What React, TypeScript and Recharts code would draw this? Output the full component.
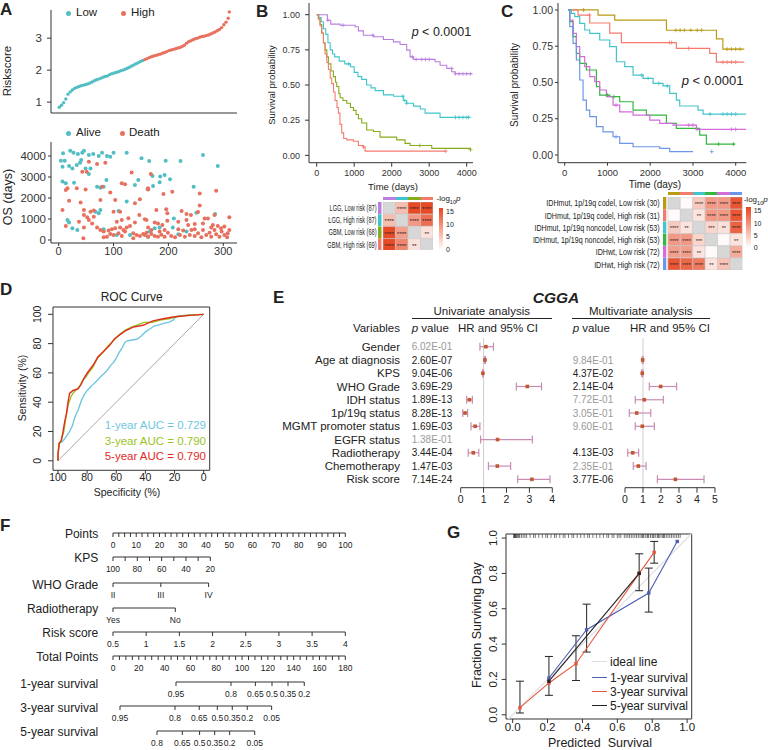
import React from "react";
import {
  ComposedChart,
  BarChart,
  Line,
  Scatter,
  Bar,
  Cell,
  LabelList,
  XAxis,
  YAxis,
  ErrorBar,
  ReferenceLine,
  ReferenceArea,
} from "recharts";

const FONT = "'Liberation Sans', Arial, Helvetica, sans-serif";
const INK = "#222";
const AXIS = "#333";

// ---------- A: risk score ranking + survival status ----------
const RISK_STEP = 4; // every 4th ranked patient
const RISK_SCORES = [
  0.84, 0.9, 0.98, 1.1, 1.25, 1.32, 1.38, 1.43, 1.46, 1.49, 1.51, 1.53, 1.55, 1.57, 1.6, 1.63,
  1.67, 1.7, 1.72, 1.75, 1.78, 1.8, 1.82, 1.86, 1.89, 1.91, 1.93, 1.95, 1.98, 2.0, 2.03, 2.06,
  2.09, 2.13, 2.16, 2.2, 2.23, 2.27, 2.3, 2.33, 2.36, 2.39, 2.42, 2.44, 2.46, 2.48, 2.5, 2.53,
  2.55, 2.58, 2.61, 2.63, 2.65, 2.67, 2.69, 2.71, 2.74, 2.78, 2.84, 2.89, 2.92, 2.95, 2.98, 3.0,
  3.03, 3.05, 3.06, 3.08, 3.1, 3.13, 3.16, 3.19, 3.23, 3.27, 3.33, 3.42, 3.5, 3.62,
];
const RISK_TOP = { rank: 311, score: 3.82 };
const RISK_CUT_RANK = 155;

const OS_ALIVE: [number, number][] = [
  [8, 4130], [21, 4250], [27, 4160], [35, 4100], [43, 4160], [46, 4250], [55, 4050], [63, 4100],
  [73, 4000], [79, 4160], [88, 4000], [94, 3970], [100, 4160], [124, 4160], [151, 3890], [4, 3780],
  [11, 3780], [7, 3490], [19, 3520], [25, 3410], [33, 3570], [41, 3810], [39, 3680], [49, 3410],
  [58, 3410], [55, 3140], [7, 2780], [13, 2700], [28, 2730], [70, 2540], [76, 2490], [87, 2860],
  [82, 2540], [145, 2860], [139, 2620], [124, 1830], [109, 1380], [76, 1430], [67, 1350], [73, 1270],
  [16, 950], [19, 830], [25, 560], [34, 480], [106, 240], [130, 240], [163, 160], [82, 510],
  [165, 3760], [195, 3780], [222, 3760], [263, 4050], [290, 3520], [171, 3050], [185, 3020],
  [193, 3100], [184, 2750], [203, 2890], [172, 2570], [162, 2430], [246, 2540], [251, 1300],
  [285, 1240], [210, 1020], [175, 560], [184, 600], [208, 600], [218, 270], [166, 400], [233, 400],
];
const OS_DEATH: [number, number][] = [
  [55, 3730], [70, 3620], [85, 3680], [43, 3250], [51, 3250], [133, 3210], [16, 2460], [13, 2380],
  [33, 2460], [49, 2410], [79, 2540], [115, 2700], [121, 2650], [163, 2410], [94, 2260], [19, 1870],
  [40, 1780], [76, 1900], [103, 1900], [148, 1940], [139, 1750], [7, 1430], [46, 1430], [58, 1350],
  [64, 1400], [100, 1350], [112, 1350], [147, 1190], [46, 1190], [52, 1080], [64, 1110], [37, 870],
  [55, 950], [61, 790], [106, 870], [115, 950], [127, 1030], [139, 830], [157, 990], [13, 670],
  [46, 600], [70, 600], [76, 480], [82, 400], [91, 450], [97, 510], [103, 560], [112, 600],
  [118, 480], [124, 600], [130, 670], [94, 290], [88, 160], [100, 240], [109, 320], [115, 190],
  [121, 400], [136, 320], [142, 240], [148, 190], [154, 290], [160, 350], [136, 80], [45, 80],
  [82, 130], [168, 3140], [163, 2460], [191, 2190], [207, 2300], [257, 2220], [287, 2350],
  [257, 1640], [178, 1430], [196, 1460], [198, 1270], [224, 1380], [233, 1240], [241, 1190],
  [254, 1330], [266, 1020], [272, 1020], [284, 1190], [311, 1080], [160, 950], [163, 600],
  [175, 830], [181, 790], [189, 720], [198, 920], [218, 870], [233, 950], [236, 720], [248, 760],
  [263, 790], [281, 720], [290, 670], [302, 640], [157, 240], [163, 160], [169, 290], [175, 190],
  [181, 160], [187, 250], [193, 160], [199, 350], [205, 190], [212, 130], [221, 240], [227, 450],
  [230, 160], [239, 240], [242, 480], [248, 190], [254, 320], [260, 130], [263, 480], [269, 240],
  [275, 350], [278, 160], [284, 480], [287, 270], [293, 160], [297, 400], [302, 240], [307, 130],
  [311, 480], [308, 320], [193, 480], [218, 510], [248, 510], [278, 600], [296, 560], [184, 400],
  [169, 480],
];

// ---------- B: KM by grade x risk ----------
const B_ROWS = ["LGG, Low risk (87)", "LGG, High risk (87)", "GBM, Low risk (68)", "GBM, High risk (69)"];
const B_COLORS = ["#B87FE0", "#3EC5CB", "#86AC1A", "#F57A6E"];
const KM_LGG_LOW: [number, number][] = [
  [0, 1], [285, 0.96], [374, 0.933], [623, 0.925], [1023, 0.914], [1112, 0.885], [1245, 0.854],
  [1512, 0.843], [1779, 0.824], [2045, 0.807], [2223, 0.788], [2401, 0.748], [2490, 0.7],
  [2579, 0.682], [3157, 0.665], [3290, 0.641], [3468, 0.618], [3601, 0.594], [3690, 0.58], [4150, 0.58],
];
const KM_LGG_HIGH: [number, number][] = [
  [0, 1], [60, 0.98], [120, 0.95], [180, 0.9], [240, 0.86], [300, 0.8], [360, 0.75], [420, 0.72],
  [480, 0.7], [600, 0.67], [750, 0.65], [900, 0.63], [1000, 0.59], [1100, 0.56], [1200, 0.54],
  [1330, 0.5], [1450, 0.48], [1560, 0.46], [1780, 0.43], [2050, 0.42], [2310, 0.39], [2400, 0.37],
  [2580, 0.35], [2760, 0.33], [2890, 0.3], [3290, 0.27], [4100, 0.27],
];
const KM_GBM_LOW: [number, number][] = [
  [0, 1], [45, 0.97], [90, 0.93], [134, 0.87], [180, 0.8], [223, 0.75], [270, 0.7], [312, 0.65],
  [380, 0.6], [445, 0.56], [500, 0.52], [534, 0.49], [590, 0.44], [623, 0.41], [700, 0.39],
  [801, 0.37], [900, 0.34], [979, 0.32], [1050, 0.29], [1112, 0.26], [1200, 0.23], [1334, 0.18],
  [1512, 0.17], [1690, 0.13], [2134, 0.11], [2357, 0.085], [2490, 0.07], [3068, 0.05], [4100, 0.04],
];
const KM_GBM_HIGH: [number, number][] = [
  [0, 1], [45, 0.97], [90, 0.92], [134, 0.87], [180, 0.8], [223, 0.72], [270, 0.66], [312, 0.61],
  [360, 0.55], [401, 0.51], [450, 0.45], [490, 0.39], [540, 0.34], [578, 0.3], [620, 0.22],
  [667, 0.16], [720, 0.12], [801, 0.11], [979, 0.1], [1112, 0.07], [1245, 0.06], [1290, 0.03], [3440, 0.03],
];
const CENS_B = [
  [300, 700, 1500, 2550, 2650, 2800, 2900, 3000, 3600, 3700, 3800, 3900, 4000, 4100],
  [850, 2300, 2350, 2400, 3700, 3800, 3900, 4000, 4050],
  [2750, 4100],
  [1250, 3440],
];
const HEAT_B: (number | null)[][] = [
  [null, 5.5, 15, 15],
  [5.5, null, 8.5, 12],
  [15, 8, null, 2.5],
  [15, 10, 2.5, null],
];

// ---------- C: KM by molecular subtype x risk ----------
const C_ROWS = [
  "IDHmut, 1p/19q codel, Low risk (30)",
  "IDHmut, 1p/19q codel, High risk (31)",
  "IDHmut, 1p/19q noncodel, Low risk (53)",
  "IDHmut, 1p/19q noncodel, High risk (53)",
  "IDHwt, Low risk (72)",
  "IDHwt, High risk (72)",
];
const C_COLORS = ["#B89C17", "#F57A6E", "#46C4CC", "#36B740", "#D46CDA", "#6C97E6"];
const KM_CODEL_LOW: [number, number][] = [
  [78, 1], [780, 0.965], [1170, 0.93], [2380, 0.86], [3550, 0.8], [3700, 0.73], [4200, 0.73],
];
const KM_CODEL_HIGH: [number, number][] = [
  [78, 1], [312, 0.965], [585, 0.91], [1053, 0.84], [1326, 0.775], [2612, 0.735], [3392, 0.7],
  [3548, 0.64], [4200, 0.64],
];
const KM_NONCODEL_LOW: [number, number][] = [
  [78, 1], [156, 0.977], [234, 0.954], [351, 0.908], [468, 0.862], [585, 0.839], [819, 0.793],
  [1053, 0.747], [1209, 0.643], [1404, 0.609], [1599, 0.551], [1833, 0.528], [2067, 0.494],
  [2301, 0.476], [2456, 0.425], [2612, 0.379], [2690, 0.338], [3119, 0.31], [3236, 0.282], [4250, 0.282],
];
const KM_NONCODEL_HIGH: [number, number][] = [
  [78, 1], [117, 0.92], [195, 0.816], [273, 0.7], [351, 0.632], [507, 0.586], [741, 0.471],
  [819, 0.413], [1053, 0.402], [1287, 0.367], [1599, 0.31], [1911, 0.275], [2379, 0.218],
  [2612, 0.183], [3158, 0.137], [3314, 0.075], [3977, 0.075],
];
const KM_WT_LOW: [number, number][] = [
  [78, 1], [117, 0.93], [195, 0.839], [273, 0.747], [351, 0.678], [468, 0.609], [585, 0.54],
  [702, 0.506], [819, 0.448], [975, 0.402], [1131, 0.344], [1287, 0.298], [1599, 0.275],
  [1989, 0.241], [2223, 0.218], [2534, 0.206], [3080, 0.177], [4250, 0.177],
];
const KM_WT_HIGH: [number, number][] = [
  [78, 1], [117, 0.885], [195, 0.77], [273, 0.655], [351, 0.517], [429, 0.379], [507, 0.31],
  [585, 0.264], [741, 0.195], [897, 0.16], [1131, 0.126], [1287, 0.08], [1599, 0.057],
  [2223, 0.046], [2456, 0.023], [3002, 0.023],
];
const CENS_C = [
  [440, 2600, 2700, 2800, 2950, 3100, 3200, 3800, 3900, 4000, 4100],
  [580, 2450, 2500, 2900, 3700, 3800, 3900, 4000],
  [1800, 1950, 2200, 2400, 3400, 3700, 3800, 3900, 4000],
  [1000, 1150, 3600, 3950],
  [1200, 2900, 3000, 3100, 3900, 4000],
  [1200, 3440],
];
const HEAT_C: (number | null)[][] = [
  [null, 0.3, 4.5, 8.5, 8.5, 14],
  [0.3, null, 2.3, 8.5, 8.5, 14],
  [4.5, 2.3, null, 3.5, 2.5, 13],
  [8.5, 8.5, 3.5, null, 0.4, 2.3],
  [8, 8, 2.3, 0.4, null, 7],
  [14, 12.5, 11, 2.3, 5, null],
];

// ---------- D: time-dependent ROC (specificity, sensitivity) ----------
const ROC_1Y: [number, number][] = [
  [100, 0], [99.6, 8], [99, 12], [97, 13], [95.5, 15], [94, 17], [92, 20], [90, 24], [89, 28],
  [87.5, 32], [86, 35], [84, 41], [82, 45], [80, 48], [78, 50], [76, 52], [74, 54], [72, 56],
  [70, 58], [68, 60], [66, 62], [64, 65], [62, 67], [60, 70], [58, 74], [56, 77], [54, 81], [52, 82],
  [49, 82.5], [46, 83], [43, 85], [40, 88], [37, 90], [34, 92], [30, 93], [27, 94], [24, 94.5],
  [21, 96], [19, 98.5], [15, 99], [8, 99.5], [0, 100],
];
const ROC_3Y: [number, number][] = [
  [100, 0], [99.5, 12], [98, 13], [96, 20], [94.5, 30], [93, 38], [91, 44], [89, 47], [87, 49],
  [85, 51], [83, 55], [81, 57], [79, 60], [76, 64], [73, 70], [70, 73], [66, 78], [62, 82], [58, 86],
  [54, 89], [50, 91], [45, 93], [41, 94.5], [35, 94.5], [30, 96], [24, 97], [18, 98.5], [10, 99.5], [0, 100],
];
const ROC_5Y: [number, number][] = [
  [100, 0], [100, 5], [99, 12], [97.7, 14], [96.5, 20], [95.4, 26.5], [94.2, 32], [93.1, 40], [92, 46],
  [89.7, 48], [86.2, 49], [83.9, 52.6], [81.7, 57.2], [79.4, 60.6], [75.9, 65.2], [72.5, 71],
  [69.1, 74.3], [64.5, 78.8], [61.1, 83.4], [56.5, 86.8], [53.1, 89.1], [48.5, 91.3], [41.6, 92.5],
  [34.8, 95.5], [27.9, 97], [21, 98.2], [9.6, 99.3], [0, 100],
];
const AUC_LABELS = ["1-year AUC = 0.729", "3-year AUC = 0.790", "5-year AUC = 0.790"];
const ROC_COLORS = ["#6FC7DE", "#9AC41F", "#E32A1F"];

// ---------- E: Cox regression ----------
const E_VARS = [
  "Gender", "Age at diagnosis", "KPS", "WHO Grade", "IDH status", "1p/19q status",
  "MGMT promoter status", "EGFR status", "Radiotherapy", "Chemotherapy", "Risk score",
];
const UNI_P = [
  "6.02E-01", "2.60E-07", "9.04E-06", "3.69E-29", "1.89E-13", "8.28E-13",
  "1.69E-03", "1.38E-01", "3.44E-04", "1.47E-03", "7.14E-24",
];
const UNI_HR = [1.1, 1.06, 0.97, 2.91, 0.38, 0.19, 0.63, 1.61, 0.55, 1.6, 3.11];
const UNI_LO = [0.84, 1.03, 0.96, 2.43, 0.26, 0.09, 0.45, 0.87, 0.33, 1.21, 2.49];
const UNI_HI = [1.43, 1.08, 0.99, 3.53, 0.51, 0.3, 0.84, 3.13, 0.79, 2.18, 3.9];
const MULTI_P = [
  null, "9.84E-01", "4.37E-02", "2.14E-04", "7.72E-01", "3.05E-01",
  "9.60E-01", null, "4.13E-03", "2.35E-01", "3.77E-06",
];
const MULTI_HR = [null, 0.98, 0.96, 1.98, 1.07, 0.65, 0.96, null, 0.43, 0.74, 2.8];
const MULTI_LO = [null, 0.96, 0.93, 1.35, 0.57, 0.24, 0.57, null, 0.15, 0.46, 1.8];
const MULTI_HI = [null, 1.01, 0.99, 2.87, 2.13, 1.43, 1.63, null, 0.76, 1.17, 4.39];

// ---------- F: nomogram ----------
const WHO_LABELS = ["II", "III", "IV"];
const RADIO_LABELS = ["Yes", "No"];
const SURV1_TP = [48.8, 91.4, 110.3, 123.2, 135.6, 148.2];
const SURV1_LABELS = ["0.95", "0.8", "0.65", "0.5", "0.35", "0.2"];
const SURV3_TP = [5.7, 48.3, 67.1, 81.1, 92.7, 104.3, 123.2];
const SURV3_LABELS = ["0.95", "0.8", "0.65", "0.5", "0.35", "0.2", "0.05"];
const SURV5_TP = [34.6, 54.2, 67.6, 79.3, 90.9, 110.3];
const SURV5_LABELS = ["0.8", "0.65", "0.5", "0.35", "0.2", "0.05"];

// ---------- G: calibration ----------
const CAL_1Y: [number, number][] = [[0.208, 0.208], [0.424, 0.481], [0.78, 0.689], [0.943, 0.981]];
const CAL_3Y: [number, number][] = [[0.042, 0.04], [0.208, 0.18], [0.363, 0.289], [0.725, 0.8], [0.811, 0.919]];
const CAL_5Y: [number, number][] = [[0.208, 0.19], [0.725, 0.8]];
const CAL_CI: [number, number, number][] = [
  [0.042, 0.01, 0.19], [0.208, 0.11, 0.33], [0.363, 0.194, 0.447], [0.424, 0.355, 0.626],
  [0.725, 0.702, 0.911], [0.78, 0.581, 0.83], [0.811, 0.858, 0.981],
];
const RUG = [
  0.005, 0.01, 0.012, 0.015, 0.018, 0.02, 0.025, 0.03, 0.035, 0.04, 0.05, 0.06, 0.07, 0.08, 0.1,
  0.12, 0.13, 0.15, 0.17, 0.19, 0.2, 0.22, 0.24, 0.25, 0.27, 0.29, 0.3, 0.32, 0.34, 0.35, 0.37,
  0.39, 0.41, 0.43, 0.44, 0.46, 0.48, 0.5, 0.52, 0.54, 0.55, 0.57, 0.58, 0.6, 0.61, 0.62, 0.64,
  0.65, 0.66, 0.67, 0.68, 0.69, 0.7, 0.71, 0.72, 0.73, 0.74, 0.745, 0.75, 0.76, 0.77, 0.775, 0.78,
  0.79, 0.8, 0.805, 0.81, 0.82, 0.83, 0.835, 0.84, 0.85, 0.86, 0.865, 0.87, 0.88, 0.89, 0.9, 0.91,
  0.92, 0.93, 0.94, 0.95, 0.96,
];

// ---------- helpers ----------
function T({ x, y, size = 11, anchor = "start", rotate, color = INK, bold, italic, children }: any) {
  const tx = anchor === "start" ? "0" : anchor === "middle" ? "-50%" : "-100%";
  return (
    <div
      style={{
        position: "absolute", left: x, top: y, fontSize: size, lineHeight: 1, whiteSpace: "pre", color,
        fontWeight: bold ? 700 : 400, fontStyle: italic ? "italic" : "normal",
        transform: rotate ? "translate(-50%,-50%) rotate(-90deg)" : `translate(${tx},-50%)`,
      }}
    >
      {children}
    </div>
  );
}

// chart box: plot rectangle in page px -> wrapper position + chart size
function box(pl: number, pt: number, pr: number, pb: number, yw: number, xh: number, mt = 4, mr = 6) {
  const left = pl - yw;
  const top = pt - mt;
  return {
    pos: { position: "absolute" as const, left, top },
    width: pr + mr - left,
    height: pb + xh - top,
    margin: { top: mt, right: mr, bottom: 0, left: 0 },
  };
}

const dot = (color: string, r: number) => (p: any) => <circle cx={p.cx} cy={p.cy} r={r} fill={color} />;
const plus = (color: string) => (p: any) => (
  <path d={`M${p.cx - 2},${p.cy}h4M${p.cx},${p.cy - 2}v4`} stroke={color} strokeWidth={0.8} />
);
const square = (color: string, s: number) => (p: any) => (
  <rect x={p.cx - s / 2} y={p.cy - s / 2} width={s} height={s} fill={color} />
);
const rotTick = (size: number, fmt: (v: number) => string) => (p: any) => (
  <text transform={`translate(${p.x},${p.y}) rotate(-90)`} textAnchor="middle" fontSize={size} fill={INK}>
    {fmt(p.payload.value)}
  </text>
);

function survAt(steps: [number, number][], t: number) {
  let s = steps[0][1];
  for (const [tt, ss] of steps) if (tt <= t) s = ss;
  return s;
}
function heat(v: number | null) {
  if (v === null) return "#D7D7D7";
  const t = Math.min(v, 15) / 15;
  const mix = (a: number, b: number) => Math.round(a + (b - a) * t);
  return `rgb(${mix(255, 233)},${mix(255, 74)},${mix(255, 38)})`;
}
function stars(v: number | null) {
  if (v === null) return "";
  return v > 4 ? "****" : v > 3 ? "***" : v > 2 ? "**" : v > 1.3 ? "*" : "";
}

// ---------- panels ----------
function PanelA() {
  const pts = RISK_SCORES.map((score, i) => ({ rank: 1 + i * RISK_STEP, score })).concat([RISK_TOP]);
  const low = pts.filter((p) => p.rank <= RISK_CUT_RANK);
  const high = pts.filter((p) => p.rank > RISK_CUT_RANK);
  const alive = OS_ALIVE.map(([rank, os]) => ({ rank, os }));
  const death = OS_DEATH.map(([rank, os]) => ({ rank, os }));
  const teal = "#52BDC2";
  const red = "#E8705E";
  const b1 = box(51, 10, 237, 113, 44, 2);
  const b2 = box(51, 142, 237, 243, 44, 18);
  return (
    <>
      <div style={b1.pos}>
        <ComposedChart width={b1.width} height={b1.height} margin={b1.margin}>
          <XAxis type="number" dataKey="rank" domain={[-14, 325]} allowDataOverflow tick={false} tickLine={false} height={2} stroke={AXIS} />
          <YAxis type="number" dataKey="score" domain={[0.66, 3.88]} allowDataOverflow ticks={[1, 2, 3]} width={44} tickSize={4} tickMargin={5} tick={{ fontSize: 11.5, fill: AXIS }} stroke={AXIS} />
          <Scatter data={low} shape={dot(teal, 1.7)} isAnimationActive={false} />
          <Scatter data={high} shape={dot(red, 1.7)} isAnimationActive={false} />
        </ComposedChart>
      </div>
      <div style={b2.pos}>
        <ComposedChart width={b2.width} height={b2.height} margin={b2.margin}>
          <XAxis type="number" dataKey="rank" domain={[-14, 325]} allowDataOverflow ticks={[0, 100, 200, 300]} tickSize={3} tickMargin={1} height={18} tick={{ fontSize: 11, fill: AXIS }} stroke={AXIS} />
          <YAxis type="number" dataKey="os" domain={[-143, 4667]} allowDataOverflow ticks={[0, 1000, 2000, 3000, 4000]} width={44} tickSize={3} tickMargin={2} tick={{ fontSize: 11.5, fill: AXIS }} stroke={AXIS} />
          <Scatter data={alive} shape={dot(teal, 2)} isAnimationActive={false} />
          <Scatter data={death} shape={dot(red, 2)} isAnimationActive={false} />
        </ComposedChart>
      </div>
      <T x={8} y={71} size={11.5} rotate>Riskscore</T>
      <T x={8} y={197} size={12.5} rotate>OS (days)</T>
      <div style={{ position: "absolute", left: 66, top: 11, width: 4.5, height: 4.5, borderRadius: 3, background: teal }} />
      <T x={76} y={13} size={11.5}>Low</T>
      <div style={{ position: "absolute", left: 121, top: 11, width: 4.5, height: 4.5, borderRadius: 3, background: red }} />
      <T x={131} y={13} size={11.5}>High</T>
      <div style={{ position: "absolute", left: 66, top: 131, width: 4.5, height: 4.5, borderRadius: 3, background: teal }} />
      <T x={76} y={133} size={11.5}>Alive</T>
      <div style={{ position: "absolute", left: 120, top: 131, width: 4.5, height: 4.5, borderRadius: 3, background: red }} />
      <T x={129} y={133} size={11.5}>Death</T>
    </>
  );
}

function KM({ curves, colors, censors, b, xDomain, yDomain, yTick, xTick, lw, xh }: any) {
  return (
    <div style={b.pos}>
      <ComposedChart width={b.width} height={b.height} margin={b.margin}>
        <XAxis type="number" dataKey="t" domain={xDomain} allowDataOverflow ticks={[0, 1000, 2000, 3000, 4000]} interval={0} height={xh} stroke={AXIS} {...xTick} />
        <YAxis type="number" dataKey="s" domain={yDomain} allowDataOverflow ticks={[0, 0.25, 0.5, 0.75, 1]} interval={0} tickFormatter={(v: number) => v.toFixed(2)} stroke={AXIS} {...yTick} />
        {curves.map((c: [number, number][], i: number) => (
          <Line key={i} data={c.map(([t, s]) => ({ t, s }))} dataKey="s" type="stepAfter" stroke={colors[i]} strokeWidth={lw} dot={false} isAnimationActive={false} />
        ))}
        {censors.map((ts: number[], i: number) => (
          <Scatter key={`c${i}`} data={ts.map((t) => ({ t, s: survAt(curves[i], t) }))} shape={plus(colors[i])} isAnimationActive={false} />
        ))}
      </ComposedChart>
    </div>
  );
}

const starLabel = (size: number) => (p: any) =>
  p.value ? (
    <text x={p.x + p.width / 2} y={p.y + p.height / 2 + size * 0.55} textAnchor="middle" fontSize={size} fill="#222">
      {p.value}
    </text>
  ) : null;

function Heatmap(props: any) {
  const { rows, colors, values, gridLeft, gridTop, cellW, rowH, stripW, gapW, labelW, labelSize, labelScale, labelGap, starSize } = props;
  const n = rows.length;
  const plotLeft = gridLeft - stripW - gapW;
  const data = rows.map((name: string, i: number) => {
    const d: Record<string, any> = { name, strip: stripW / cellW, gap: gapW / cellW };
    values[i].forEach((v: number | null, j: number) => {
      d[`c${j}`] = 1;
      d[`s${j}`] = stars(v);
    });
    return d;
  });
  const width = labelW + (gridLeft + n * cellW - plotLeft) + 1;
  return (
    <div style={{ position: "absolute", left: plotLeft - labelW, top: gridTop }}>
      <BarChart layout="vertical" width={width} height={n * rowH} data={data} margin={{ top: 0, right: 1, bottom: 0, left: 0 }} barCategoryGap={0} barGap={0}>
        <XAxis type="number" hide domain={[0, n + (stripW + gapW) / cellW]} allowDataOverflow />
        <YAxis
          type="category" dataKey="name" width={labelW} axisLine={false} tickLine={false} tickSize={0} tickMargin={labelGap} interval={0}
          tick={(p: any) => (
            <text transform={`translate(${p.x},${p.y}) scale(${labelScale},1)`} textAnchor="end" dy="0.35em" fontSize={labelSize} fill={INK}>
              {p.payload.value}
            </text>
          )}
        />
        <Bar dataKey="strip" stackId="h" isAnimationActive={false}>
          {rows.map((_: string, i: number) => <Cell key={i} fill={colors[i]} />)}
        </Bar>
        <Bar dataKey="gap" stackId="h" fill="transparent" isAnimationActive={false} />
        {rows.map((_: string, j: number) => (
          <Bar key={j} dataKey={`c${j}`} stackId="h" stroke="#c4c4c4" strokeWidth={0.5} isAnimationActive={false}>
            {values.map((r: (number | null)[], i: number) => <Cell key={i} fill={heat(r[j])} />)}
            <LabelList dataKey={`s${j}`} content={starLabel(starSize)} />
          </Bar>
        ))}
      </BarChart>
    </div>
  );
}

function HeatDecor({ colors, gridLeft, cellW, stripTop, legX, legTop, legW, legH, titleY, fs }: any) {
  const labelsY = [0, 1, 2, 3].map((k) => legTop + 3 + (k * (legH - 4)) / 3);
  return (
    <>
      {colors.map((c: string, j: number) => (
        <div key={j} style={{ position: "absolute", left: gridLeft + j * cellW, top: stripTop, width: cellW, height: 3, background: c }} />
      ))}
      <T x={legX - 2} y={titleY} size={fs}>
        -log<sub style={{ fontSize: fs * 0.7 }}>10</sub><i>p</i>
      </T>
      <div style={{ position: "absolute", left: legX, top: legTop, width: legW, height: legH, background: "linear-gradient(to bottom, #E9431F, #F6A58F 50%, #FFFFFF)" }} />
      {["15", "10", "5", "0"].map((s, k) => (
        <T key={s} x={legX + legW + 3} y={labelsY[k]} size={fs - 1}>{s}</T>
      ))}
    </>
  );
}

function PanelB() {
  const b = box(309, 3, 473, 162.7, 40, 18);
  return (
    <>
      <KM
        curves={[KM_LGG_LOW, KM_LGG_HIGH, KM_GBM_LOW, KM_GBM_HIGH]} colors={B_COLORS} censors={CENS_B} b={b}
        xDomain={[-205, 4168]} yDomain={[-0.052, 1.083]} lw={1.1} xh={18}
        xTick={{ tickSize: 4, tickMargin: 3, tick: { fontSize: 9, fill: AXIS } }}
        yTick={{ width: 40, tickSize: 4, tickMargin: 5, tick: { fontSize: 9, fill: AXIS } }}
      />
      <T x={272} y={85} size={9.5} rotate>Survival probability</T>
      <T x={393} y={187} size={9.5} anchor="middle">Time (days)</T>
      <T x={411.7} y={32} size={12.5}><i>p</i> &lt; 0.0001</T>
      <Heatmap rows={B_ROWS} colors={B_COLORS} values={HEAT_B} gridLeft={383} gridTop={201.7} cellW={12.5} rowH={12.2} stripW={3.5} gapW={1.5} labelW={60} labelSize={8.5} labelScale={0.66} labelGap={1.5} starSize={6} />
      <HeatDecor colors={B_COLORS} gridLeft={383} cellW={12.5} stripTop={196.5} legX={438.5} legTop={208} legW={4.5} legH={42} titleY={200} fs={8} />
    </>
  );
}

function PanelC() {
  const b = box(558.3, 3, 746.7, 162.7, 45, 22);
  return (
    <>
      <KM
        curves={[KM_CODEL_LOW, KM_CODEL_HIGH, KM_NONCODEL_LOW, KM_NONCODEL_HIGH, KM_WT_LOW, KM_WT_HIGH]} colors={C_COLORS} censors={CENS_C} b={b}
        xDomain={[-157, 4250]} yDomain={[-0.053, 1.048]} lw={1.2} xh={22}
        xTick={{ tickSize: 3, tickMargin: 4, tick: { fontSize: 9.5, fill: AXIS } }}
        yTick={{ width: 45, tickSize: 3, tickMargin: 2, tick: { fontSize: 10.5, fill: AXIS } }}
      />
      <T x={515} y={85} size={10} rotate>Survival probability</T>
      <T x={655} y={184.5} size={10} anchor="middle">Time (days)</T>
      <T x={681.7} y={80} size={13}><i>p</i> &lt; 0.0001</T>
      <Heatmap rows={C_ROWS} colors={C_COLORS} values={HEAT_C} gridLeft={667.7} gridTop={197} cellW={12.43} rowH={12.22} stripW={3.3} gapW={1.6} labelW={160} labelSize={9.5} labelScale={0.75} labelGap={3.3} starSize={5.5} />
      <HeatDecor colors={C_COLORS} gridLeft={667.7} cellW={12.43} stripTop={192} legX={745.7} legTop={207.3} legW={5} legH={41} titleY={200.5} fs={8} />
    </>
  );
}

function PanelD() {
  const b = box(53.3, 306.7, 210, 470, 25, 14, 4, 4);
  const curves = [ROC_1Y, ROC_3Y, ROC_5Y];
  return (
    <>
      <div style={b.pos}>
        <ComposedChart width={b.width} height={b.height} margin={b.margin}>
          <XAxis type="number" dataKey="spec" reversed domain={[-4.1, 103.4]} allowDataOverflow ticks={[0, 20, 40, 60, 80, 100]} interval={0} axisLine={false} tickSize={3.5} tickMargin={0} height={14} stroke={AXIS} tick={{ fontSize: 10.5, fill: INK }} />
          <YAxis type="number" dataKey="sens" domain={[-6.5, 105]} allowDataOverflow ticks={[0, 20, 40, 60, 80, 100]} interval={0} axisLine={false} tickSize={5} tickMargin={6.5} width={25} stroke={AXIS} tick={rotTick(10.5, (v) => String(v))} />
          <ReferenceArea x1={-4.1} x2={103.4} y1={-6.5} y2={105} fill="none" stroke={AXIS} strokeWidth={1} ifOverflow="visible" />
          <ReferenceLine segment={[{ x: 100, y: 0 }, { x: 0, y: 100 }]} stroke="#a8a8a8" strokeWidth={1} />
          {curves.map((c, i) => (
            <Line key={i} data={c.map(([spec, sens]) => ({ spec, sens }))} dataKey="sens" type="linear" stroke={ROC_COLORS[i]} strokeWidth={1.4} dot={false} isAnimationActive={false} />
          ))}
        </ComposedChart>
      </div>
      <T x={131.7} y={297} size={12} anchor="middle">ROC Curve</T>
      <T x={22} y={388} size={10.5} rotate>Sensitivity (%)</T>
      <T x={127} y={492} size={10.5} anchor="middle">Specificity (%)</T>
      {AUC_LABELS.map((s, i) => (
        <T key={s} x={206} y={426 + i * 15.5} size={11.5} anchor="end" color={ROC_COLORS[i]}>{s}</T>
      ))}
    </>
  );
}

function Forest({ hr, lo, hi, pv, b, max, nameX, pX }: any) {
  const data = hr
    .map((h: number | null, i: number) => (h === null ? null : { row: i, hr: h, ex: [h - lo[i], hi[i] - h] }))
    .filter(Boolean);
  const ticks = Array.from({ length: max + 1 }, (_, k) => k);
  return (
    <div style={b.pos}>
      <ComposedChart width={b.width} height={b.height} margin={b.margin}>
        <XAxis type="number" dataKey="hr" domain={[0, max]} allowDataOverflow ticks={ticks} interval={0} tickSize={5} tickMargin={3} height={18} stroke={AXIS} tick={{ fontSize: 10.5, fill: INK }} />
        <YAxis
          type="number" dataKey="row" reversed domain={[-0.656, 10.63]} allowDataOverflow ticks={E_VARS.map((_, i) => i)} interval={0}
          width={b.yw} axisLine={false} tickLine={false}
          tick={(p: any) => {
            const i = p.payload.value;
            const pvalue = pv[i];
            const sig = pvalue !== null && parseFloat(pvalue) < 0.05;
            return (
              <g>
                {nameX !== null && (
                  <text x={nameX} y={p.y} dy="0.36em" textAnchor="end" fontSize={11.5} fill={INK}>{E_VARS[i]}</text>
                )}
                {pvalue !== null && (
                  <text x={pX} y={p.y} dy="0.36em" fontSize={10} fill={sig ? INK : "#9a9a9a"}>{pvalue}</text>
                )}
              </g>
            );
          }}
        />
        <ReferenceLine x={1} stroke="#cfcfcf" strokeWidth={1} />
        <Scatter data={data} shape={square("#C2562F", 3.6)} isAnimationActive={false}>
          <ErrorBar dataKey="ex" direction="x" stroke="#C98CB4" strokeWidth={1.2} width={4} />
        </Scatter>
      </ComposedChart>
    </div>
  );
}

function PanelE() {
  const bu = { ...box(460.7, 338, 552.3, 487.7, 220.7, 18, 4, 8), yw: 220.7 };
  const bm = { ...box(625, 338, 715, 487.7, 60, 18, 4, 8), yw: 60 };
  return (
    <>
      <T x={556} y={298} size={15.5} anchor="middle" bold italic>CGGA</T>
      <T x={481.7} y={312} size={11.5} anchor="middle">Univariate analysis</T>
      <T x={640.8} y={312} size={11.5} anchor="middle">Multivariate analysis</T>
      <div style={{ position: "absolute", left: 411.7, top: 318, width: 140, height: 0, borderTop: "1px solid #222" }} />
      <div style={{ position: "absolute", left: 571.7, top: 318, width: 138.3, height: 0, borderTop: "1px solid #222" }} />
      <T x={400} y={329} size={11.5} anchor="end">Variables</T>
      <T x={411.7} y={329} size={11.5}><i>p</i> value</T>
      <T x={458} y={329} size={11.5}>HR and 95% CI</T>
      <T x={572.7} y={329} size={11.5}><i>p</i> value</T>
      <T x={630} y={329} size={11.5}>HR and 95% CI</T>
      <Forest hr={UNI_HR} lo={UNI_LO} hi={UNI_HI} pv={UNI_P} b={bu} max={4} nameX={400 - 240} pX={411.7 - 240} />
      <Forest hr={MULTI_HR} lo={MULTI_LO} hi={MULTI_HI} pv={MULTI_P} b={bm} max={5} nameX={null} pX={572.7 - 565} />
    </>
  );
}

const NOMO_L = 112.7; // page x of 0 points
const NOMO_R = 345; // page x of 100 points / 180 total points

function NomoAxis({ y, x0, x1, domain, reversed, ticks, label }: any) {
  const pad = 16;
  return (
    <div style={{ position: "absolute", left: x0 - pad, top: y - 1 }}>
      <ComposedChart width={x1 - x0 + 2 * pad} height={21} margin={{ top: 0, right: pad, bottom: 0, left: pad }} data={ticks.map((v: number) => ({ v }))}>
        <XAxis
          type="number" dataKey="v" domain={domain} reversed={reversed} allowDataOverflow ticks={ticks} interval={0}
          tickSize={4} tickMargin={5} height={20} stroke={AXIS}
          tick={(p: any) => (
            <text x={p.x} y={p.y} dy="0.71em" textAnchor="middle" fontSize={8.5} fill={INK}>{label(p.payload.value, p.index)}</text>
          )}
        />
        <YAxis hide domain={[0, 1]} />
      </ComposedChart>
    </div>
  );
}

function PanelF() {
  const tp = (v: number) => NOMO_L + (v * (NOMO_R - NOMO_L)) / 180;
  const pointTicks = Array.from({ length: 41 }, (_, k) => k * 2.5);
  const totalTicks = Array.from({ length: 37 }, (_, k) => k * 5);
  const rows = [
    { name: "Points", y: 532.7, x0: NOMO_L, x1: NOMO_R, domain: [0, 100], ticks: pointTicks, label: (v: number) => (v % 10 === 0 ? String(v) : "") },
    { name: "KPS", y: 556.7, x0: NOMO_L, x1: 210, domain: [20, 100], reversed: true, ticks: [20, 30, 40, 50, 60, 70, 80, 90, 100], label: (v: number) => (v % 20 === 0 ? String(v) : "") },
    { name: "WHO Grade", y: 583.3, x0: NOMO_L, x1: 208.3, domain: [2, 4], ticks: [2, 3, 4], label: (_: number, i: number) => WHO_LABELS[i] },
    { name: "Radiotherapy", y: 607.7, x0: NOMO_L, x1: 175, domain: [0, 1], ticks: [0, 1], label: (_: number, i: number) => RADIO_LABELS[i] },
    { name: "Risk score", y: 631.7, x0: NOMO_L, x1: NOMO_R, domain: [0.5, 4], ticks: [0.5, 1, 1.5, 2, 2.5, 3, 3.5, 4], label: (v: number) => String(v) },
    { name: "Total Points", y: 655.7, x0: NOMO_L, x1: NOMO_R, domain: [0, 180], ticks: totalTicks, label: (v: number) => (v % 20 === 0 ? String(v) : "") },
    { name: "1-year survival", y: 682.3, x0: tp(SURV1_TP[0]), x1: tp(SURV1_TP[SURV1_TP.length - 1]), domain: [SURV1_TP[0], SURV1_TP[SURV1_TP.length - 1]], ticks: SURV1_TP, label: (_: number, i: number) => SURV1_LABELS[i] },
    { name: "3-year survival", y: 706.3, x0: tp(SURV3_TP[0]), x1: tp(SURV3_TP[SURV3_TP.length - 1]), domain: [SURV3_TP[0], SURV3_TP[SURV3_TP.length - 1]], ticks: SURV3_TP, label: (_: number, i: number) => SURV3_LABELS[i] },
    { name: "5-year survival", y: 730.7, x0: tp(SURV5_TP[0]), x1: tp(SURV5_TP[SURV5_TP.length - 1]), domain: [SURV5_TP[0], SURV5_TP[SURV5_TP.length - 1]], ticks: SURV5_TP, label: (_: number, i: number) => SURV5_LABELS[i] },
  ];
  return (
    <>
      {rows.map((r) => (
        <React.Fragment key={r.name}>
          <T x={98.3} y={r.y + 1.5} size={12} anchor="end">{r.name}</T>
          <NomoAxis {...r} />
        </React.Fragment>
      ))}
    </>
  );
}

function PanelG() {
  const b = box(506, 534.3, 691.7, 719.3, 25, 14, 4, 6);
  const series = [
    { d: CAL_1Y, c: "#4F5FB3" },
    { d: CAL_3Y, c: "#E5583F" },
    { d: CAL_5Y, c: "#222222" },
  ];
  const ci = CAL_CI.map(([x, lo, hi]) => ({ x, y: lo, ey: [0, hi - lo] }));
  const rug = RUG.map((x) => ({ x, y: 1.023 }));
  const ticks = [0, 0.2, 0.4, 0.6, 0.8, 1];
  const legend = [
    { t: "ideal line", c: "#dedede", y: 661.7 },
    { t: "1-year survival", c: "#4F5FB3", y: 677.7 },
    { t: "3-year survival", c: "#E5583F", y: 691.5 },
    { t: "5-year survival", c: "#222222", y: 705.5 },
  ];
  return (
    <>
      <div style={b.pos}>
        <ComposedChart width={b.width} height={b.height} margin={b.margin}>
          <XAxis type="number" dataKey="x" domain={[-0.038, 1.026]} allowDataOverflow ticks={ticks} interval={0} tickFormatter={(v: number) => v.toFixed(1)} axisLine={false} tickSize={4} tickMargin={0} height={14} stroke={AXIS} tick={{ fontSize: 11.5, fill: INK }} />
          <YAxis type="number" dataKey="y" domain={[-0.024, 1.023]} allowDataOverflow ticks={ticks} interval={0} axisLine={false} tickSize={4.3} tickMargin={4.3} width={25} stroke={AXIS} tick={rotTick(11.5, (v) => v.toFixed(1))} />
          <ReferenceArea x1={-0.038} x2={1.026} y1={-0.024} y2={1.023} fill="none" stroke={AXIS} strokeWidth={1} ifOverflow="visible" />
          <ReferenceLine segment={[{ x: -0.024, y: -0.024 }, { x: 1.023, y: 1.023 }]} stroke="#e2e2e2" strokeWidth={1.2} />
          <Scatter data={rug} shape={(p: any) => <line x1={p.cx} x2={p.cx} y1={p.cy} y2={p.cy + 4} stroke="#222" strokeWidth={0.6} />} isAnimationActive={false} />
          <Scatter data={ci} shape={() => <g />} isAnimationActive={false}>
            <ErrorBar dataKey="ey" direction="y" stroke="#222" strokeWidth={1} width={4} />
          </Scatter>
          {series.map((s, i) => (
            <Line key={i} data={s.d.map(([x, y]) => ({ x, y }))} dataKey="y" type="linear" stroke={s.c} strokeWidth={1.1} dot={false} isAnimationActive={false} />
          ))}
          {series.map((s, i) => (
            <Scatter key={`p${i}`} data={s.d.map(([x, y]) => ({ x, y }))} shape={square(s.c, 3.4)} isAnimationActive={false} />
          ))}
        </ComposedChart>
      </div>
      <T x={477} y={625} size={12.5} rotate>Fraction Surviving Day</T>
      <T x={600} y={742.5} size={12.5} anchor="middle">Predicted  Survival</T>
      {legend.map((l) => (
        <React.Fragment key={l.t}>
          <div style={{ position: "absolute", left: 591.7, top: l.y - 0.6, width: 15, height: 1.2, background: l.c }} />
          <T x={610} y={l.y} size={12}>{l.t}</T>
        </React.Fragment>
      ))}
    </>
  );
}

export default function App() {
  return (
    <div style={{ position: "absolute", left: 0, top: 0, width: 768, height: 750, background: "#fff", fontFamily: FONT, color: INK, overflow: "hidden" }}>
      <PanelA />
      <PanelB />
      <PanelC />
      <PanelD />
      <PanelE />
      <PanelF />
      <PanelG />
      <T x={0} y={9} size={17} bold>A</T>
      <T x={256} y={11} size={17} bold>B</T>
      <T x={501} y={11} size={17} bold>C</T>
      <T x={0} y={289} size={17} bold>D</T>
      <T x={273} y={297} size={17} bold>E</T>
      <T x={0} y={525} size={17} bold>F</T>
      <T x={447} y={532} size={17} bold>G</T>
    </div>
  );
}
